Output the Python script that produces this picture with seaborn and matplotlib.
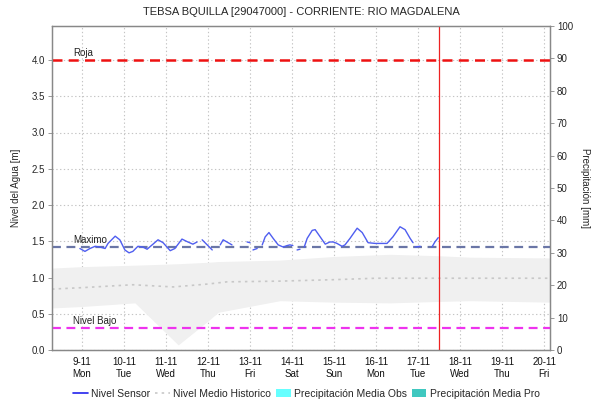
import numpy as np
import pandas as pd
import matplotlib
matplotlib.use("Agg")
import matplotlib.pyplot as plt
from matplotlib.lines import Line2D
from matplotlib.patches import Patch
import seaborn as sns

sns.set_theme(style="white")
plt.rcParams["font.family"] = ["Liberation Sans", "DejaVu Sans"]

# ---- data (x in days, 0 = 9-11 00:00) ----
tick_dates = ["9-11", "10-11", "11-11", "12-11", "13-11", "14-11",
              "15-11", "16-11", "17-11", "18-11", "19-11", "20-11"]
tick_days = ["Mon", "Tue", "Wed", "Thu", "Fri", "Sat",
             "Sun", "Mon", "Tue", "Wed", "Thu", "Fri"]
x_start, x_end = -0.714, 11.14
now_day = 8.5

# sensor level, split in continuous segments
sensor_seg = [1] * 24 + [2] * 3 + [3] * 4 + [4] * 2 + [5] * 2 + [6] * 9 + [7] * 2 + [8] * 22 + [9] * 2 + [10] * 3
sensor_x = [-0.05, 0.07, 0.19, 0.31, 0.43, 0.55, 0.62, 0.79, 0.90, 1.02, 1.12, 1.21,
            1.33, 1.45, 1.55, 1.67, 1.81, 1.93, 2.10, 2.21, 2.38, 2.52, 2.64, 2.74,
            2.86, 2.98, 3.10,
            3.29, 3.36, 3.48, 3.57,
            3.93, 4.00,
            4.07, 4.17,
            4.29, 4.36, 4.45, 4.55, 4.67, 4.79, 4.88, 4.95, 5.02,
            5.12, 5.19,
            5.29, 5.36, 5.48, 5.55, 5.67, 5.79, 5.90, 5.98, 6.07, 6.19, 6.26, 6.38,
            6.55, 6.67, 6.81, 6.98, 7.26, 7.40, 7.57, 7.69, 7.81, 7.88,
            7.93, 8.05,
            8.33, 8.40, 8.48]
sensor_y = [1.40, 1.36, 1.40, 1.43, 1.42, 1.40, 1.47, 1.57, 1.52, 1.38, 1.34, 1.36,
            1.43, 1.42, 1.39, 1.45, 1.52, 1.48, 1.37, 1.40, 1.53, 1.49, 1.46, 1.49,
            1.52, 1.45, 1.38,
            1.45, 1.52, 1.48, 1.45,
            1.49, 1.48,
            1.38, 1.40,
            1.45, 1.56, 1.62, 1.54, 1.45, 1.42, 1.44, 1.45, 1.44,
            1.38, 1.39,
            1.42, 1.54, 1.65, 1.66, 1.56, 1.46, 1.49, 1.49, 1.47, 1.43, 1.45, 1.54,
            1.68, 1.62, 1.48, 1.47, 1.47, 1.56, 1.70, 1.66, 1.54, 1.48,
            1.42, 1.43,
            1.42, 1.49, 1.55]

# historical mean level
hist_x = [-0.714, 0.0, 1.21, 2.17, 3.0, 3.45, 4.71, 6.0, 7.0, 8.5, 10.0, 11.14]
hist_mean = [0.84, 0.86, 0.90, 0.87, 0.91, 0.94, 0.95, 0.97, 0.99, 0.99, 0.99, 0.99]

# historical range band
band_x = [-0.714, 0.0, 1.26, 2.29, 3.0, 3.24, 4.71, 6.0, 7.33, 8.5, 9.24, 11.14]
band_high = [1.13, 1.15, 1.17, 1.19, 1.21, 1.22, 1.24, 1.29, 1.32, 1.30, 1.28, 1.27]
band_low = [0.58, 0.60, 0.65, 0.07, 0.40, 0.52, 0.68, 0.66, 0.65, 0.67, 0.68, 0.66]

levels = {"Roja": 4.0, "Maximo": 1.42, "Nivel Bajo": 0.30}
level_colors = {"Roja": "#ee1111", "Maximo": "#6a76a6", "Nivel Bajo": "#ee33ee"}
level_widths = {"Roja": 1.8, "Maximo": 1.6, "Nivel Bajo": 1.6}

# ---- figure ----
fig = plt.figure(figsize=(6.03, 4.12), dpi=100)
ax = fig.add_axes([52 / 603, 62 / 412, 498 / 603, 324 / 412])
ax2 = ax.twinx()

ymax = 324 / 72.5
ax.set_xlim(x_start, x_end)
ax.set_ylim(0, ymax)
ax2.set_ylim(0, 100)

grid_kw = dict(color="#c4c4c4", linestyle=(0, (1.2, 2.2)), linewidth=0.8, zorder=0)
for d in range(len(tick_dates)):
    ax.axvline(d, **grid_kw)
for v in np.arange(0.5, 4.01, 0.5):
    ax.axhline(v, **grid_kw)
ax.axhline(0.0, **grid_kw)

ax.fill_between(band_x, band_low, band_high, color="#f0f0f0", linewidth=0, zorder=1)

hist_df = pd.DataFrame({"x": hist_x, "y": hist_mean})
sns.lineplot(data=hist_df, x="x", y="y", ax=ax, color="#c8c8c8",
             linestyle=(0, (1.5, 2.5)), linewidth=1.2, zorder=2)

for name, val in levels.items():
    ax.axhline(val, color=level_colors[name], linestyle=(0, (4, 2.5)),
               linewidth=level_widths[name], zorder=3)
    ax.text(-0.21, val + 0.03, name, fontsize=7, color="#222222",
            ha="left", va="bottom", zorder=4)

sensor_df = pd.DataFrame({"x": sensor_x, "y": sensor_y, "seg": sensor_seg})
sns.lineplot(data=sensor_df, x="x", y="y", units="seg", estimator=None, ax=ax,
             color="#4f5ef0", linewidth=1.0, zorder=5)

ax.axvline(now_day, color="#ee2222", linewidth=0.9, zorder=6)

ax.set_xticks(range(len(tick_dates)))
ax.set_xticklabels([f"{a}\n{b}" for a, b in zip(tick_dates, tick_days)],
                   fontsize=7, linespacing=1.25)
ax.set_yticks(np.arange(0, 4.01, 0.5))
ax.set_yticklabels([f"{v:.1f}" for v in np.arange(0, 4.01, 0.5)], fontsize=7)
ax2.set_yticks(range(0, 101, 10))
ax2.set_yticklabels([str(v) for v in range(0, 101, 10)], fontsize=7)

ax.tick_params(axis="x", length=0, pad=5, colors="#111111")
ax.tick_params(axis="y", length=3, width=0.6, color="#888888", pad=2, left=True)
ax2.tick_params(axis="y", length=3, width=0.6, color="#888888", pad=2, right=True)

ax.set_xlabel("")
ax.set_ylabel("Nivel del Agua [m]", fontsize=7, labelpad=8)
ax2.set_ylabel("Precipitación [mm]", fontsize=7, rotation=270, labelpad=12)

for a in (ax, ax2):
    for s in a.spines.values():
        s.set_color("#888888")
        s.set_linewidth(0.9)

ax.set_title("TEBSA BQUILLA [29047000] - CORRIENTE: RIO MAGDALENA",
             fontsize=8, pad=8)

handles = [
    Line2D([], [], color="#2222ee", linewidth=1.2),
    Line2D([], [], color="#c8c8c8", linestyle=(0, (1.5, 2.5)), linewidth=1.2),
    Patch(facecolor="#66ffff", edgecolor="none"),
    Patch(facecolor="#40c8c0", edgecolor="none"),
]
labels = ["Nivel Sensor", "Nivel Medio Historico",
          "Precipitación Media Obs", "Precipitación Media Pro"]
fig.legend(handles, labels, loc="center", bbox_to_anchor=(0.508, 17 / 412 + 0.003),
           ncol=4, frameon=False, fontsize=7.5, handlelength=1.4,
           handletextpad=0.3, columnspacing=0.5, handleheight=0.9)

fig.savefig("out.png", dpi=100)
